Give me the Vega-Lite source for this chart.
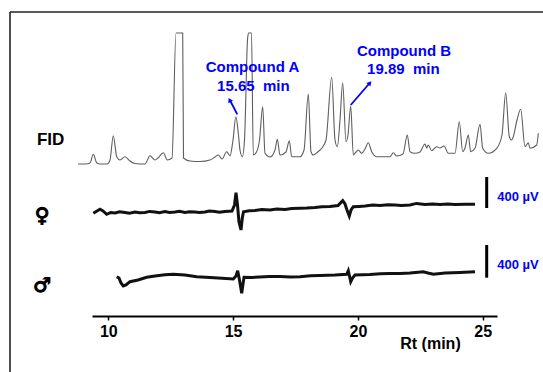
{
  "$schema": "https://vega.github.io/schema/vega-lite/v6.json",
  "width": 405,
  "height": 304,
  "autosize": {"type": "none"},
  "padding": {"left": 92, "top": 12, "right": 46, "bottom": 56},
  "background": "white",
  "config": {"view": {"stroke": null}},
  "datasets": {
    "fid": [
      {"rt": 8.788, "v": 152}, {"rt": 9.107, "v": 152}, {"rt": 9.267, "v": 153}, {"rt": 9.399, "v": 161.7},
      {"rt": 9.535, "v": 153.3}, {"rt": 9.667, "v": 152}, {"rt": 9.948, "v": 152}, {"rt": 10.068, "v": 156},
      {"rt": 10.2, "v": 180.3}, {"rt": 10.337, "v": 159.3}, {"rt": 10.469, "v": 156}, {"rt": 10.669, "v": 159.3},
      {"rt": 10.869, "v": 155}, {"rt": 11.07, "v": 152.5}, {"rt": 11.47, "v": 152}, {"rt": 11.671, "v": 160.3},
      {"rt": 11.871, "v": 156}, {"rt": 11.991, "v": 158}, {"rt": 12.204, "v": 163.3}, {"rt": 12.364, "v": 156},
      {"rt": 12.552, "v": 158}, {"rt": 12.712, "v": 283}, {"rt": 12.981, "v": 283}, {"rt": 13.013, "v": 158},
      {"rt": 13.273, "v": 155}, {"rt": 13.674, "v": 154.5}, {"rt": 14.074, "v": 156}, {"rt": 14.274, "v": 159},
      {"rt": 14.407, "v": 161}, {"rt": 14.555, "v": 157}, {"rt": 14.744, "v": 164.3}, {"rt": 14.876, "v": 160},
      {"rt": 14.996, "v": 176}, {"rt": 15.112, "v": 199.3}, {"rt": 15.216, "v": 181}, {"rt": 15.276, "v": 166},
      {"rt": 15.369, "v": 159.3}, {"rt": 15.457, "v": 176}, {"rt": 15.577, "v": 276}, {"rt": 15.617, "v": 283},
      {"rt": 15.737, "v": 283}, {"rt": 15.809, "v": 161}, {"rt": 15.938, "v": 164}, {"rt": 16.058, "v": 176},
      {"rt": 16.186, "v": 209.3}, {"rt": 16.278, "v": 162.7}, {"rt": 16.478, "v": 159}, {"rt": 16.679, "v": 166},
      {"rt": 16.771, "v": 176.7}, {"rt": 16.879, "v": 161}, {"rt": 17.119, "v": 164}, {"rt": 17.252, "v": 175.3},
      {"rt": 17.348, "v": 159.3}, {"rt": 17.681, "v": 159.3}, {"rt": 17.841, "v": 166}, {"rt": 18.013, "v": 222},
      {"rt": 18.121, "v": 164.3}, {"rt": 18.213, "v": 161}, {"rt": 18.401, "v": 164.3}, {"rt": 18.55, "v": 167.7},
      {"rt": 18.722, "v": 176}, {"rt": 18.95, "v": 238.7}, {"rt": 19.083, "v": 176}, {"rt": 19.175, "v": 169.3},
      {"rt": 19.283, "v": 196}, {"rt": 19.391, "v": 233.3}, {"rt": 19.523, "v": 174.3}, {"rt": 19.603, "v": 181},
      {"rt": 19.712, "v": 210}, {"rt": 19.816, "v": 161}, {"rt": 19.924, "v": 164}, {"rt": 20.016, "v": 166},
      {"rt": 20.152, "v": 162.7}, {"rt": 20.284, "v": 167}, {"rt": 20.417, "v": 173.3}, {"rt": 20.553, "v": 164.3},
      {"rt": 20.765, "v": 159.3}, {"rt": 21.286, "v": 159.3}, {"rt": 21.418, "v": 163.3}, {"rt": 21.554, "v": 160},
      {"rt": 21.807, "v": 162}, {"rt": 21.979, "v": 181}, {"rt": 22.087, "v": 164.3}, {"rt": 22.287, "v": 162.7},
      {"rt": 22.488, "v": 164}, {"rt": 22.688, "v": 172}, {"rt": 22.756, "v": 168}, {"rt": 22.821, "v": 171},
      {"rt": 22.957, "v": 165.3}, {"rt": 23.157, "v": 169.3}, {"rt": 23.289, "v": 168}, {"rt": 23.45, "v": 170},
      {"rt": 23.622, "v": 162.7}, {"rt": 23.89, "v": 162.7}, {"rt": 24.062, "v": 194.3}, {"rt": 24.199, "v": 164.3},
      {"rt": 24.291, "v": 168}, {"rt": 24.423, "v": 181}, {"rt": 24.519, "v": 164.3}, {"rt": 24.692, "v": 167.7},
      {"rt": 24.892, "v": 191.7}, {"rt": 25.0, "v": 167.7}, {"rt": 25.224, "v": 162.7}, {"rt": 25.561, "v": 167.7},
      {"rt": 25.773, "v": 181}, {"rt": 25.921, "v": 223.3}, {"rt": 26.066, "v": 179.3}, {"rt": 26.162, "v": 176},
      {"rt": 26.226, "v": 179.3}, {"rt": 26.374, "v": 196}, {"rt": 26.522, "v": 206.7}, {"rt": 26.695, "v": 169.3},
      {"rt": 26.827, "v": 173.3}, {"rt": 26.895, "v": 167.7}, {"rt": 27.163, "v": 171}, {"rt": 27.228, "v": 182.7}
    ],
    "female": [
      {"rt": 9.399, "v": 102.7}, {"rt": 9.547, "v": 105}, {"rt": 9.667, "v": 106.7}, {"rt": 9.788, "v": 105},
      {"rt": 9.936, "v": 101.7}, {"rt": 10.1, "v": 103.5}, {"rt": 10.268, "v": 103}, {"rt": 10.45, "v": 104.2},
      {"rt": 10.669, "v": 103.5}, {"rt": 10.85, "v": 102.8}, {"rt": 11.07, "v": 104}, {"rt": 11.25, "v": 103.2},
      {"rt": 11.47, "v": 103.5}, {"rt": 11.65, "v": 104.6}, {"rt": 11.871, "v": 104}, {"rt": 12.05, "v": 103.3},
      {"rt": 12.272, "v": 104.5}, {"rt": 12.45, "v": 103.6}, {"rt": 12.672, "v": 104}, {"rt": 12.85, "v": 104.8},
      {"rt": 13.073, "v": 103.5}, {"rt": 13.25, "v": 104.2}, {"rt": 13.474, "v": 104}, {"rt": 13.65, "v": 103.4},
      {"rt": 13.874, "v": 104}, {"rt": 14.05, "v": 104.9}, {"rt": 14.275, "v": 104.5}, {"rt": 14.45, "v": 103.8},
      {"rt": 14.675, "v": 104.5}, {"rt": 14.956, "v": 105}, {"rt": 15.056, "v": 111}, {"rt": 15.116, "v": 123.3},
      {"rt": 15.176, "v": 111}, {"rt": 15.236, "v": 94}, {"rt": 15.317, "v": 86}, {"rt": 15.369, "v": 98},
      {"rt": 15.417, "v": 104.3}, {"rt": 15.65, "v": 105.2}, {"rt": 15.877, "v": 105.5}, {"rt": 16.15, "v": 106.4},
      {"rt": 16.478, "v": 106}, {"rt": 16.75, "v": 106.9}, {"rt": 17.079, "v": 106.5}, {"rt": 17.35, "v": 107.4},
      {"rt": 17.68, "v": 107.7}, {"rt": 17.95, "v": 107.9}, {"rt": 18.281, "v": 108.5}, {"rt": 18.55, "v": 109.3},
      {"rt": 18.882, "v": 109.5}, {"rt": 19.203, "v": 110.5}, {"rt": 19.391, "v": 115.3}, {"rt": 19.483, "v": 112},
      {"rt": 19.563, "v": 106}, {"rt": 19.655, "v": 100}, {"rt": 19.724, "v": 106}, {"rt": 19.816, "v": 109.3},
      {"rt": 20.05, "v": 109.6}, {"rt": 20.284, "v": 110}, {"rt": 20.6, "v": 110.9}, {"rt": 20.886, "v": 110.5},
      {"rt": 21.2, "v": 111.3}, {"rt": 21.487, "v": 111}, {"rt": 21.75, "v": 110.6}, {"rt": 22.087, "v": 111},
      {"rt": 22.35, "v": 112.6}, {"rt": 22.688, "v": 111.5}, {"rt": 23.0, "v": 112}, {"rt": 23.289, "v": 111.5},
      {"rt": 23.6, "v": 111.9}, {"rt": 23.89, "v": 111.5}, {"rt": 24.291, "v": 111.8}, {"rt": 24.692, "v": 111.7}
    ],
    "male": [
      {"rt": 10.337, "v": 39.3}, {"rt": 10.429, "v": 38}, {"rt": 10.509, "v": 33}, {"rt": 10.601, "v": 30},
      {"rt": 10.709, "v": 31}, {"rt": 10.869, "v": 34.3}, {"rt": 11.19, "v": 36}, {"rt": 11.538, "v": 38.7},
      {"rt": 11.871, "v": 40}, {"rt": 12.272, "v": 41.3}, {"rt": 12.604, "v": 41.7}, {"rt": 13.073, "v": 41},
      {"rt": 13.542, "v": 39.3}, {"rt": 14.074, "v": 38.5}, {"rt": 14.555, "v": 37.7}, {"rt": 15.008, "v": 37},
      {"rt": 15.116, "v": 40}, {"rt": 15.184, "v": 45.3}, {"rt": 15.256, "v": 36}, {"rt": 15.345, "v": 22.7},
      {"rt": 15.397, "v": 32}, {"rt": 15.437, "v": 38.7}, {"rt": 15.75, "v": 38.6}, {"rt": 16.078, "v": 39},
      {"rt": 16.45, "v": 39.6}, {"rt": 16.879, "v": 39.5}, {"rt": 17.3, "v": 39.1}, {"rt": 17.68, "v": 39.3},
      {"rt": 18.1, "v": 40.2}, {"rt": 18.481, "v": 40.5}, {"rt": 19.083, "v": 41}, {"rt": 19.551, "v": 41.7},
      {"rt": 19.615, "v": 45.3}, {"rt": 19.663, "v": 40}, {"rt": 19.712, "v": 34.3}, {"rt": 19.784, "v": 38},
      {"rt": 19.884, "v": 41}, {"rt": 20.485, "v": 41.5}, {"rt": 20.9, "v": 42.3}, {"rt": 21.286, "v": 42.5},
      {"rt": 21.7, "v": 42.4}, {"rt": 22.087, "v": 43}, {"rt": 22.621, "v": 44.3}, {"rt": 22.809, "v": 43},
      {"rt": 23.021, "v": 41.7}, {"rt": 23.49, "v": 43}, {"rt": 24.091, "v": 43.5}, {"rt": 24.692, "v": 44.3}
    ],
    "frame": [
      {"x": 6.062, "x2": 6.062, "y": 304, "y2": -80},
      {"x": 6.062, "x2": 28.5, "y": 304, "y2": 304}
    ],
    "bars": [
      {"x": 25.16, "y": 139, "y2": 108},
      {"x": 25.16, "y": 71, "y2": 38.3}
    ],
    "arrows": [
      {"x": 15.168, "y": 201.7, "x2": 14.9, "y2": 214.5},
      {"x": 19.712, "y": 211, "x2": 20.44, "y2": 232}
    ],
    "headA": [{"x": 14.86, "y": 216}],
    "headB": [{"x": 20.48, "y": 233}],
    "compound": [
      {"x": 15.777, "y": 249, "label": "Compound A"},
      {"x": 15.81, "y": 230.5, "label": "15.65\u00a0 min"},
      {"x": 21.847, "y": 265.5, "label": "Compound B"},
      {"x": 21.82, "y": 247.5, "label": "19.89\u00a0 min"}
    ],
    "uv": [
      {"x": 25.585, "y": 119, "label": "400 µV"},
      {"x": 25.585, "y": 51.3, "label": "400 µV"}
    ],
    "fidlab": [{"x": 7.143, "y": 176, "label": "FID"}],
    "sex": [
      {"x": 7.35, "y": 100, "label": "♀"},
      {"x": 7.35, "y": 30, "label": "♂"}
    ]
  },
  "encoding": {
    "x": {
      "field": "rt", "type": "quantitative",
      "scale": {"domain": [9.347, 25.573], "nice": false, "zero": false},
      "axis": {
        "values": [10, 15, 20, 25], "grid": false,
        "domainColor": "black", "domainWidth": 2,
        "tickColor": "black", "tickWidth": 1.5, "tickSize": 4,
        "labelFont": "Liberation Sans", "labelFontWeight": "bold", "labelFontSize": 16,
        "labelColor": "black", "labelPadding": 3,
        "title": "Rt (min)", "titleFont": "Liberation Sans", "titleFontWeight": "bold",
        "titleFontSize": 16, "titleColor": "black",
        "titleX": 338, "titleY": 27, "titleAlign": "center", "titleBaseline": "middle", "titleAnchor": null
      }
    },
    "y": {
      "field": "v", "type": "quantitative",
      "scale": {"domain": [0, 304], "nice": false, "zero": false},
      "axis": null
    }
  },
  "layer": [
    {
      "data": {"name": "frame"},
      "mark": {"type": "rule", "color": "#222", "strokeWidth": 1.6},
      "encoding": {"x": {"field": "x"}, "x2": {"field": "x2"}, "y": {"field": "y"}, "y2": {"field": "y2"}}
    },
    {
      "data": {"name": "fid"},
      "mark": {"type": "line", "color": "#5e5e5e", "strokeWidth": 1.1, "interpolate": "monotone"}
    },
    {
      "data": {"name": "female"},
      "mark": {"type": "line", "color": "#111", "strokeWidth": 3}
    },
    {
      "data": {"name": "male"},
      "mark": {"type": "line", "color": "#111", "strokeWidth": 3}
    },
    {
      "data": {"name": "bars"},
      "mark": {"type": "rule", "color": "black", "strokeWidth": 3},
      "encoding": {"x": {"field": "x"}, "y": {"field": "y"}, "y2": {"field": "y2"}}
    },
    {
      "data": {"name": "arrows"},
      "mark": {"type": "rule", "color": "#0000ff", "strokeWidth": 1.8},
      "encoding": {"x": {"field": "x"}, "x2": {"field": "x2"}, "y": {"field": "y"}, "y2": {"field": "y2"}}
    },
    {
      "data": {"name": "headA"},
      "mark": {"type": "point", "shape": "triangle-up", "filled": true, "color": "#0000ff", "size": 28, "angle": 332, "opacity": 1},
      "encoding": {"x": {"field": "x"}, "y": {"field": "y"}}
    },
    {
      "data": {"name": "headB"},
      "mark": {"type": "point", "shape": "triangle-up", "filled": true, "color": "#0000ff", "size": 28, "angle": 41, "opacity": 1},
      "encoding": {"x": {"field": "x"}, "y": {"field": "y"}}
    },
    {
      "data": {"name": "compound"},
      "mark": {"type": "text", "font": "Liberation Sans", "fontWeight": "bold", "fontSize": 15, "color": "#0000ff", "align": "center", "baseline": "middle"},
      "encoding": {"x": {"field": "x"}, "y": {"field": "y"}, "text": {"field": "label"}}
    },
    {
      "data": {"name": "uv"},
      "mark": {"type": "text", "font": "Liberation Sans", "fontWeight": "bold", "fontSize": 13, "color": "#0000ff", "align": "left", "baseline": "middle"},
      "encoding": {"x": {"field": "x"}, "y": {"field": "y"}, "text": {"field": "label"}}
    },
    {
      "data": {"name": "fidlab"},
      "mark": {"type": "text", "font": "Liberation Sans", "fontWeight": "bold", "fontSize": 17, "color": "black", "align": "left", "baseline": "middle"},
      "encoding": {"x": {"field": "x"}, "y": {"field": "y"}, "text": {"field": "label"}}
    },
    {
      "data": {"name": "sex"},
      "mark": {"type": "text", "font": "DejaVu Sans", "fontWeight": "bold", "fontSize": 20, "color": "black", "stroke": "black", "strokeWidth": 1.2, "align": "center", "baseline": "middle"},
      "encoding": {"x": {"field": "x"}, "y": {"field": "y"}, "text": {"field": "label"}}
    }
  ]
}
